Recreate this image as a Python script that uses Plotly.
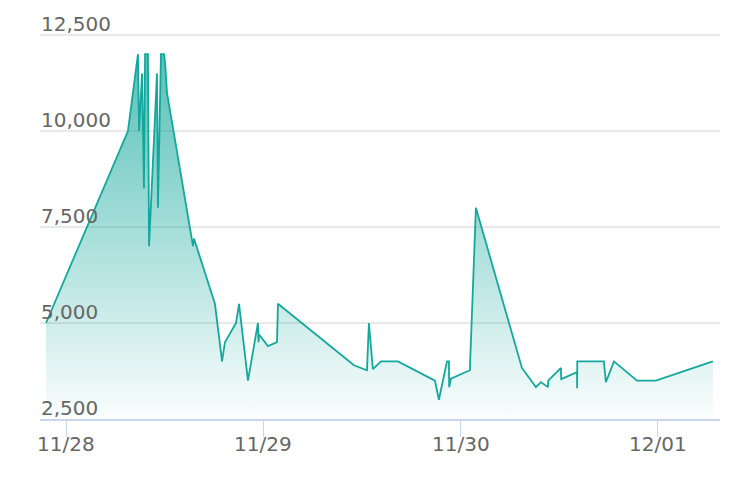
import plotly.graph_objects as go

times = [
    "2023-11-27 21:34", "2023-11-28 07:32", "2023-11-28 08:45", "2023-11-28 08:53",
    "2023-11-28 09:15", "2023-11-28 09:29", "2023-11-28 09:37", "2023-11-28 09:58",
    "2023-11-28 10:06", "2023-11-28 11:04", "2023-11-28 11:11", "2023-11-28 11:33",
    "2023-11-28 11:55", "2023-11-28 12:03", "2023-11-28 12:17", "2023-11-28 15:27",
    "2023-11-28 15:34", "2023-11-28 18:07", "2023-11-28 18:59", "2023-11-28 19:20",
    "2023-11-28 20:41", "2023-11-28 21:03", "2023-11-28 22:08", "2023-11-28 23:21",
    "2023-11-28 23:25", "2023-11-28 23:29", "2023-11-29 00:34", "2023-11-29 01:40",
    "2023-11-29 01:47", "2023-11-29 11:02", "2023-11-29 12:37", "2023-11-29 12:51",
    "2023-11-29 13:20", "2023-11-29 14:19", "2023-11-29 16:23", "2023-11-29 20:53",
    "2023-11-29 21:22", "2023-11-29 22:21", "2023-11-29 22:35", "2023-11-29 22:37",
    "2023-11-29 22:50", "2023-11-30 01:08", "2023-11-30 01:52", "2023-11-30 07:28",
    "2023-11-30 09:10", "2023-11-30 09:47", "2023-11-30 10:38", "2023-11-30 10:40",
    "2023-11-30 12:13", "2023-11-30 12:15", "2023-11-30 14:10", "2023-11-30 14:11",
    "2023-11-30 14:12", "2023-11-30 17:26", "2023-11-30 17:41", "2023-11-30 18:40",
    "2023-11-30 21:28", "2023-11-30 23:46", "2023-12-01 06:42",
]
values = [
    5000, 10000, 12000, 10000,
    11500, 8500, 12000, 12000,
    7000, 11500, 8000, 12000,
    12000, 11800, 11000, 7000,
    7200, 5500, 4000, 4500,
    5000, 5500, 3500, 5000,
    4500, 4700, 4400, 4500,
    5500, 3900, 3770, 5000,
    3800, 4000, 4000, 3500,
    3000, 4000, 4000, 3330,
    3550, 3770, 8000, 3830,
    3330, 3460, 3330, 3500,
    3830, 3540, 3720, 3300,
    4000, 4000, 3460, 4000,
    3500, 3500, 4000,
]
y_ticks = [2500, 5000, 7500, 10000, 12500]
x_ticks = ["2023-11-28", "2023-11-29", "2023-11-30", "2023-12-01"]
x_labels = ["11/28", "11/29", "11/30", "12/01"]

line_color = "#14a89c"
text_color = "#666666"
font_family = "DejaVu Sans"

fig = go.Figure()
fig.add_trace(go.Scatter(
    x=[times[0], times[-1]], y=[2500, 2500], mode="lines",
    line=dict(width=0), hoverinfo="skip", showlegend=False,
))
fig.add_trace(go.Scatter(
    x=times, y=values, mode="lines",
    line=dict(color=line_color, width=1.8),
    fill="tonexty",
    fillgradient=dict(
        type="vertical",
        start=2500, stop=12000,
        colorscale=[[0, "rgba(20,168,156,0.02)"], [1, "rgba(20,168,156,0.72)"]],
    ),
    showlegend=False,
))

annotations = []
for v in y_ticks:
    annotations.append(dict(
        x=0, xref="paper", y=v, yref="y", text=f"{v:,}", showarrow=False,
        xanchor="left", yanchor="bottom", yshift=-3, xshift=-1,
        font=dict(family=font_family, size=20, color=text_color),
    ))
for t, lab in zip(x_ticks, x_labels):
    annotations.append(dict(
        x=t, xref="x", y=0, yref="paper", text=lab, showarrow=False,
        xanchor="center", yanchor="top", yshift=-11,
        font=dict(family=font_family, size=20, color=text_color),
    ))

fig.update_layout(
    width=734, height=478,
    margin=dict(l=32, r=22, t=22, b=67, autoexpand=False),
    paper_bgcolor="white", plot_bgcolor="white",
    font=dict(family=font_family, color=text_color, size=20),
    showlegend=False,
    annotations=annotations,
)
fig.update_yaxes(
    range=[2500, 12630], tickvals=y_ticks, showticklabels=False,
    showgrid=True, gridcolor="#e8e8e8", gridwidth=1.5,
    zeroline=False, showline=False, ticks="", automargin=False,
)
fig.update_xaxes(
    type="date", range=["2023-11-27 20:50", "2023-12-01 07:34"],
    tickvals=x_ticks, showticklabels=False,
    showgrid=False, zeroline=False, showline=True, linecolor="#ccd6eb", linewidth=1.5,
    ticks="outside", ticklen=16, tickcolor="#ccd6eb", tickwidth=1.2,
    automargin=False,
)

fig.write_html("out.html")
